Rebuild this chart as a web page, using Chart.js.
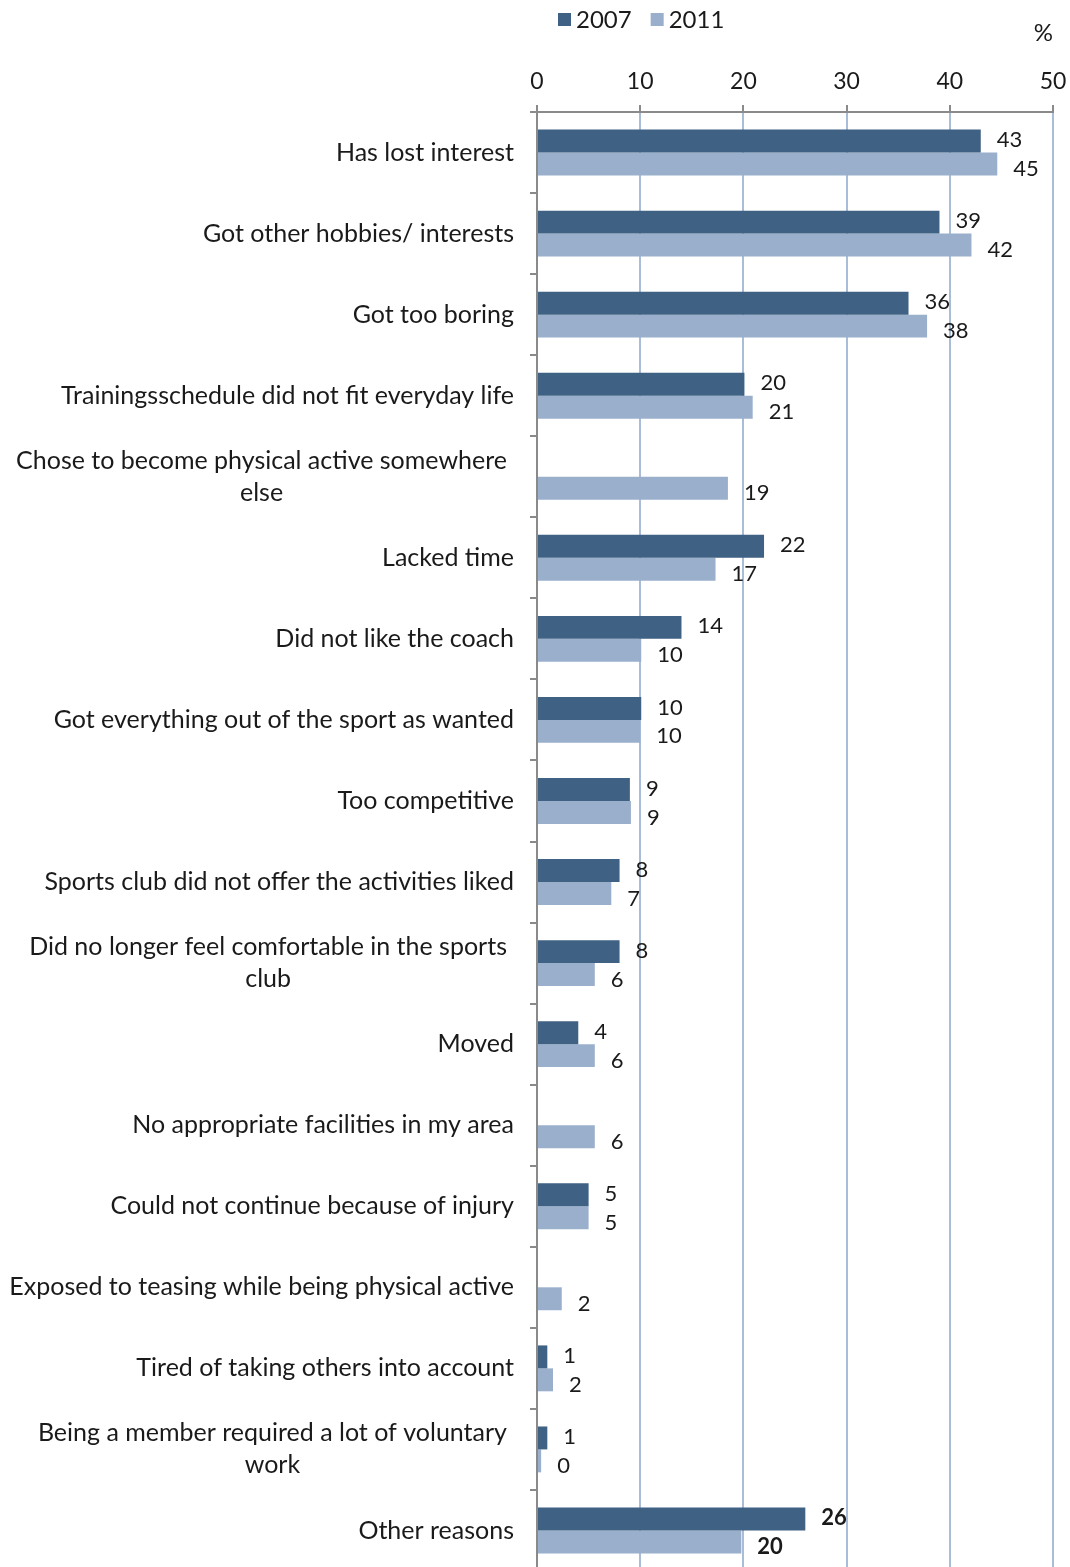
<!DOCTYPE html>
<html>
<head>
<meta charset="utf-8">
<script src="https://cdn.jsdelivr.net/npm/chart.js@4/dist/chart.umd.min.js"></script>
<style>
	html, body { margin: 0; padding: 0; background: #fff; overflow: hidden; }
	#wrap { width: 1070px; height: 1579px; position: relative; }
</style>
</head>
<body>
<div id="wrap"><canvas id="reasons"></canvas></div>
<script>
// categorias (las que tienen dos lineas van como arreglo)
const categories = [
	"Has lost interest",
	"Got other hobbies/ interests",
	"Got too boring",
	"Trainingsschedule did not fit everyday life",
	["Chose to become physical active somewhere", "else"],
	"Lacked time",
	"Did not like the coach",
	"Got everything out of the sport as wanted",
	"Too competitive",
	"Sports club did not offer the activities liked",
	["Did no longer feel comfortable in the sports", "club"],
	"Moved",
	"No appropriate facilities in my area",
	"Could not continue because of injury",
	"Exposed to teasing while being physical active",
	"Tired of taking others into account",
	["Being a member required a lot of voluntary", "work"],
	"Other reasons",
];
const years = ["2007", "2011"];
const values2007 = [43, 39, 36, 20.1, null, 22, 14, 10.1, 9, 8, 8, 4, null, 5, null, 1, 1, 26];
const values2011 = [44.6, 42.1, 37.8, 20.9, 18.5, 17.3, 10.1, 10, 9.1, 7.2, 5.6, 5.6, 5.6, 5, 2.4, 1.55, 0.4, 19.8];
const xTicks = [0, 10, 20, 30, 40, 50];

const FONT = "Lato, 'Open Sans', sans-serif";
const colors = ["#3f6183", "#9aafcc"];

// dibuja etiquetas del eje y, leyenda y valores
const customDraw = {
	id: "customDraw",
	afterDraw(chart) {
		const ctx = chart.ctx;
		const yScale = chart.scales.y;
		ctx.save();
		ctx.fillStyle = "#1a1a1a";
		ctx.font = `25px ${FONT}`;
		ctx.textBaseline = "middle";
		categories.forEach((cat, i) => {
			const y = yScale.getPixelForValue(i);
			if (Array.isArray(cat)) {
				const maxW = Math.max(...cat.map((l) => ctx.measureText(l).width));
				const cx = 507 - maxW / 2;
				ctx.textAlign = "center";
				cat.forEach((line, k) => {
					ctx.fillText(line, cx, y + (k - (cat.length - 1) / 2) * 32);
				});
			} else {
				ctx.textAlign = "right";
				ctx.fillText(cat, 514, y);
			}
		});

		// valores de cada barra
		chart.data.datasets.forEach((ds, d) => {
			const meta = chart.getDatasetMeta(d);
			meta.data.forEach((bar, i) => {
				const v = ds.data[i];
				if (v === null || v === undefined) return;
				const last = i === categories.length - 1;
				ctx.font = `${last ? "bold " : ""}22px ${FONT}`;
				ctx.textAlign = "left";
				const dy = d === 0 ? -1 : 5;
				ctx.fillText(String(Math.round(v)), bar.x + 16, bar.y + dy);
			});
		});

		// leyenda
		ctx.font = `24px ${FONT}`;
		let x = 558;
		chart.data.datasets.forEach((ds) => {
			ctx.fillStyle = ds.backgroundColor;
			ctx.fillRect(x, 13, 13, 13);
			ctx.fillStyle = "#1a1a1a";
			ctx.textAlign = "left";
			ctx.fillText(ds.label, x + 18, 20);
			x += 18 + ctx.measureText(ds.label).width + 19;
		});
		ctx.restore();
	},
};

const canvas = document.getElementById("reasons").getContext("2d");
new Chart(canvas, {
	type: "bar",
	data: {
		labels: categories,
		datasets: [
			{label: years[0], data: values2007, backgroundColor: colors[0]},
			{label: years[1], data: values2011, backgroundColor: colors[1]},
		],
	},
	options: {
		indexAxis: "y",
		responsive: true,
		maintainAspectRatio: false,
		animation: false,
		layout: {padding: {top: 0, right: 17, bottom: 8, left: 0}},
		datasets: {
			bar: {categoryPercentage: 0.566, barPercentage: 1, borderWidth: 0},
		},
		scales: {
			x: {
				position: "top",
				min: 0,
				max: 50,
				afterBuildTicks: (scale) => {
					scale.ticks = xTicks.map((v) => ({value: v}));
				},
				afterFit: (scale) => {
					scale.height = 112;
					scale.paddingLeft = 0;
					scale.paddingRight = 0;
				},
				ticks: {
					color: "#1a1a1a",
					font: {family: FONT, size: 23},
					padding: 10,
				},
				grid: {
					color: "#a9bcd8",
					lineWidth: 2,
					tickColor: "#8a8a8a",
					tickLength: 7,
				},
				border: {color: "#8a8a8a", width: 2},
				title: {
					display: true,
					text: "%",
					align: "end",
					color: "#1a1a1a",
					font: {family: FONT, size: 24},
					padding: {top: 19, bottom: 0},
				},
			},
			y: {
				afterFit: (scale) => {
					scale.width = 537;
				},
				ticks: {display: false},
				grid: {
					offset: true,
					drawOnChartArea: false,
					tickColor: "#8a8a8a",
					tickLength: 7,
					lineWidth: 2,
				},
				border: {color: "#8a8a8a", width: 2},
			},
		},
		plugins: {
			legend: {display: false},
			tooltip: {enabled: false},
		},
	},
	plugins: [customDraw],
});
</script>
</body>
</html>
